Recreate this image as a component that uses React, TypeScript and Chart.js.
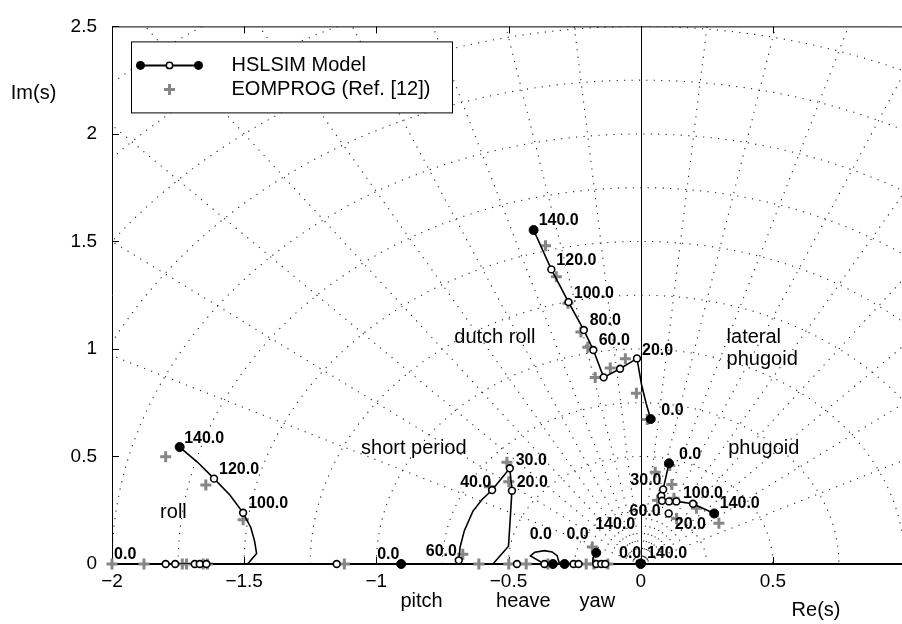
import React, { useEffect, useRef } from 'react';
import { Chart, registerables } from 'chart.js';

Chart.register(...registerables);

type Pt = [number, number];

// ---------- axis ticks ----------
const xTicks = [-2, -1.5, -1, -0.5, 0, 0.5, 1];
const yTicks = [0, 0.5, 1, 1.5, 2, 2.5];

// ---------- s-plane grid (sgrid) ----------
const gridWn = [0.25, 0.5, 0.75, 1, 1.25, 1.5, 1.75, 2, 2.25, 2.5, 2.75, 3, 3.25];
const gridZeta = [0.1, 0.2, 0.3, 0.4, 0.5, 0.6, 0.7, 0.8, 0.9, -0.1, -0.2, -0.3, -0.4, -0.5, -0.6, -0.7, -0.8, -0.9];

// ---------- HSLSIM model: roll ----------
const rollOpen: Pt[] = [[-1.614, 0.397], [-1.504, 0.238], [-1.797, 0], [-1.761, 0], [-1.687, 0], [-1.668, 0], [-1.643, 0]];
const rollFilled: Pt[] = [[-1.744, 0.544]];
const rollPath: Pt[] = [[-1.797, 0], [-1.487, 0], [-1.453, 0.049], [-1.461, 0.109], [-1.475, 0.17], [-1.504, 0.238], [-1.554, 0.321], [-1.614, 0.397], [-1.676, 0.473], [-1.744, 0.544]];
// ---------- pitch ----------
const pitchOpen: Pt[] = [[-1.15, 0]];
const pitchFilled: Pt[] = [[-0.906, 0]];
// ---------- short period ----------
const spOpen: Pt[] = [[-0.487, 0.341], [-0.495, 0.445], [-0.562, 0.344], [-0.688, 0.017], [-0.468, 0]];
const spPathA: Pt[] = [[-0.487, 0.341], [-0.495, 0.445], [-0.562, 0.344], [-0.6, 0.3], [-0.635, 0.245], [-0.667, 0.155], [-0.683, 0.079], [-0.688, 0.017], [-0.69, 0]];
const spPathB: Pt[] = [[-0.487, 0.341], [-0.494, 0.2], [-0.5, 0.083], [-0.559, 0]];
// ---------- heave ----------
const heaveOpen: Pt[] = [[-0.364, 0], [-0.254, 0], [-0.235, 0]];
const heaveFilled: Pt[] = [[-0.332, 0], [-0.288, 0]];
const heaveLoop: Pt[] = [[-0.364, 0], [-0.417, 0.038], [-0.4, 0.055], [-0.364, 0.062], [-0.335, 0.056], [-0.316, 0.039], [-0.307, 0]];
// ---------- yaw ----------
const yawOpen: Pt[] = [[-0.168, 0], [-0.149, 0], [-0.134, 0]];
const yawFilled: Pt[] = [[-0.168, 0.052]];
const yawPath: Pt[] = [[-0.168, 0.052], [-0.18, 0.03], [-0.181, 0.012], [-0.175, 0]];
// ---------- spiral ----------
const spiralFilled: Pt[] = [[0, 0]];
const spiralPath: Pt[] = [[-0.019, 0], [-0.014, 0.016], [0, 0.023], [0.014, 0.016], [0.019, 0]];
// ---------- dutch roll / lateral phugoid ----------
const drOpen: Pt[] = [[-0.338, 1.37], [-0.273, 1.218], [-0.215, 1.088], [-0.179, 0.995], [-0.14, 0.868], [-0.078, 0.908], [-0.014, 0.956]];
const drFilled: Pt[] = [[-0.405, 1.553], [0.038, 0.674]];
const drPath: Pt[] = [[-0.405, 1.553], [-0.338, 1.37], [-0.273, 1.218], [-0.215, 1.088], [-0.179, 0.995], [-0.14, 0.868], [-0.078, 0.908], [-0.014, 0.956], [0.003, 0.836], [0.021, 0.745], [0.038, 0.674]];
// ---------- phugoid ----------
const phOpen: Pt[] = [[0.085, 0.347], [0.078, 0.317], [0.081, 0.294], [0.107, 0.291], [0.135, 0.291], [0.198, 0.28], [0.106, 0.235]];
const phFilled: Pt[] = [[0.107, 0.468], [0.278, 0.235]];
const phPath: Pt[] = [[0.107, 0.468], [0.085, 0.347], [0.078, 0.317], [0.081, 0.294], [0.107, 0.291], [0.135, 0.291], [0.198, 0.28], [0.278, 0.235]];

// ---------- EOMPROG (Ref. [12]) ----------
const refRoll: Pt[] = [[-1.797, 0.499], [-1.645, 0.367], [-1.504, 0.206], [-2.0, 0], [-1.879, 0], [-1.734, 0], [-1.718, 0], [-1.655, 0], [-1.639, 0]];
const refPitch: Pt[] = [[-1.121, 0]];
const refShort: Pt[] = [[-0.506, 0.473], [-0.499, 0.382], [-0.572, 0.359], [-0.673, 0.045], [-0.612, 0], [-0.499, 0], [-0.433, 0], [-0.351, 0]];
const refYaw: Pt[] = [[-0.183, 0.079], [-0.206, 0], [-0.177, 0], [-0.124, 0]];
const refDutch: Pt[] = [[-0.36, 1.48], [-0.319, 1.336], [-0.275, 1.212], [-0.226, 1.079], [-0.2, 1.008], [-0.172, 0.867], [-0.115, 0.912], [-0.058, 0.955], [-0.016, 0.794], [0.025, 0.672]];
const refPhugoid: Pt[] = [[0.055, 0.427], [0.118, 0.37], [0.11, 0.458], [0.064, 0.296], [0.126, 0.306], [0.136, 0.212], [0.211, 0.259], [0.296, 0.19]];

// ---------- speed annotations (text, anchored at left/middle) ----------
const speedText = ['140.0', '120.0', '100.0', '80.0', '60.0', '20.0', '0.0', '0.0', '30.0', '100.0', '140.0', '60.0', '20.0', '30.0', '40.0', '20.0', '60.0', '0.0', '0.0', '140.0', '0.0', '140.0', '140.0', '120.0', '100.0', '0.0', '0.0'];
const speedX = [-0.386, -0.319, -0.253, -0.193, -0.159, 0.005, 0.078, 0.145, -0.039, 0.16, 0.299, -0.042, 0.129, -0.473, -0.683, -0.469, -0.813, -0.42, -0.281, -0.172, -0.082, 0.024, -1.727, -1.595, -1.485, -1.992, -0.997];
const speedY = [1.599, 1.409, 1.258, 1.13, 1.039, 0.994, 0.714, 0.508, 0.386, 0.327, 0.279, 0.245, 0.185, 0.482, 0.38, 0.38, 0.056, 0.138, 0.138, 0.182, 0.047, 0.047, 0.585, 0.44, 0.28, 0.045, 0.045];

// ---------- mode names ----------
const modeText = ['roll', 'short period', 'dutch roll', 'lateral', 'phugoid', 'phugoid', 'pitch', 'heave', 'yaw', 'Re(s)', 'Im(s)'];
const modeX = [-1.818, -1.058, -0.705, 0.325, 0.325, 0.331, -0.909, -0.547, -0.231, 0.571, -2.383];
const modeY = [0.238, 0.538, 1.052, 1.055, 0.95, 0.538, -0.175, -0.175, -0.175, -0.214, 2.19];

const FONT = "'Liberation Sans', Arial, Helvetica, sans-serif";
const REF_GREY = '#868686';

const xy = (a: Pt[]) => a.map(([x, y]) => ({ x, y }));
const fmt = (v: number) => (v < 0 ? '\u2212' + String(Math.abs(v)) : String(v));

export default function App() {
  const ref = useRef<HTMLCanvasElement>(null);

  useEffect(() => {
    const canvas = ref.current;
    if (!canvas) return;

    const overlay = {
      id: 'overlay',
      beforeDatasetsDraw(chart: any) {
        const { ctx, chartArea: a, scales } = chart;
        const xs = scales.x, ys = scales.y;
        const x0 = xs.getPixelForValue(0), y0 = ys.getPixelForValue(0);
        const kx = xs.getPixelForValue(1) - x0;
        const ky = y0 - ys.getPixelForValue(1);
        ctx.save();
        ctx.beginPath();
        ctx.rect(a.left, a.top, a.right - a.left, a.bottom - a.top);
        ctx.clip();
        ctx.strokeStyle = '#262626';
        ctx.lineWidth = 1.1;
        ctx.setLineDash([1.2, 6.3]);
        for (const r of gridWn) {
          ctx.beginPath();
          ctx.ellipse(x0, y0, r * kx, r * ky, 0, Math.PI, 2 * Math.PI);
          ctx.stroke();
        }
        for (const z of gridZeta) {
          const R = 6;
          ctx.beginPath();
          ctx.moveTo(x0, y0);
          ctx.lineTo(x0 - z * R * kx, y0 - Math.sqrt(1 - z * z) * R * ky);
          ctx.stroke();
        }
        ctx.setLineDash([]);
        // imaginary axis
        ctx.strokeStyle = '#000';
        ctx.lineWidth = 1;
        ctx.beginPath();
        ctx.moveTo(Math.round(x0) + 0.5, y0);
        ctx.lineTo(Math.round(x0) + 0.5, a.top);
        ctx.stroke();
        ctx.restore();

        // box + inner ticks
        ctx.save();
        ctx.strokeStyle = '#000';
        ctx.lineWidth = 1;
        ctx.beginPath();
        ctx.moveTo(a.left + 0.5, a.bottom);
        ctx.lineTo(a.left + 0.5, a.top + 0.5);
        ctx.lineTo(a.right, a.top + 0.5);
        ctx.stroke();
        ctx.lineWidth = 2;
        ctx.beginPath();
        ctx.moveTo(a.left, a.bottom);
        ctx.lineTo(a.right, a.bottom);
        ctx.stroke();
        ctx.lineWidth = 1;
        const T = 7;
        for (const t of xTicks) {
          const px = Math.round(xs.getPixelForValue(t)) + 0.5;
          ctx.beginPath();
          ctx.moveTo(px, a.bottom);
          ctx.lineTo(px, a.bottom - T);
          ctx.moveTo(px, a.top);
          ctx.lineTo(px, a.top + T);
          ctx.stroke();
        }
        for (const t of yTicks) {
          const py = Math.round(ys.getPixelForValue(t)) + 0.5;
          ctx.beginPath();
          ctx.moveTo(a.left, py);
          ctx.lineTo(a.left + T, py);
          ctx.stroke();
        }
        ctx.restore();
      },
      afterDatasetsDraw(chart: any) {
        const { ctx, chartArea: a, scales } = chart;
        const xs = scales.x, ys = scales.y;
        ctx.save();
        ctx.fillStyle = '#000';
        ctx.textBaseline = 'middle';
        ctx.textAlign = 'left';
        ctx.font = `bold 16px ${FONT}`;
        speedText.forEach((s, i) => {
          ctx.fillText(s, xs.getPixelForValue(speedX[i]), ys.getPixelForValue(speedY[i]));
        });
        ctx.font = `20px ${FONT}`;
        modeText.forEach((s, i) => {
          ctx.fillText(s, xs.getPixelForValue(modeX[i]), ys.getPixelForValue(modeY[i]));
        });

        // legend
        const lx = a.left + 19.5, ly = a.top + 15.5, lw = 321, lh = 71;
        ctx.fillStyle = '#fff';
        ctx.fillRect(lx, ly, lw, lh);
        ctx.strokeStyle = '#000';
        ctx.lineWidth = 1;
        ctx.strokeRect(lx, ly, lw, lh);
        const r1 = ly + 23.5;
        ctx.lineWidth = 2;
        ctx.beginPath();
        ctx.moveTo(lx + 9, r1);
        ctx.lineTo(lx + 67, r1);
        ctx.stroke();
        ctx.fillStyle = '#000';
        for (const px of [lx + 9, lx + 67]) {
          ctx.beginPath();
          ctx.arc(px, r1, 4.5, 0, Math.PI * 2);
          ctx.fill();
        }
        ctx.lineWidth = 1.5;
        ctx.beginPath();
        ctx.arc(lx + 38, r1, 3.2, 0, Math.PI * 2);
        ctx.fillStyle = '#fff';
        ctx.fill();
        ctx.stroke();
        const r2 = ly + 47.5;
        ctx.strokeStyle = REF_GREY;
        ctx.lineWidth = 3;
        ctx.beginPath();
        ctx.moveTo(lx + 38 - 5.5, r2);
        ctx.lineTo(lx + 38 + 5.5, r2);
        ctx.moveTo(lx + 38, r2 - 5.5);
        ctx.lineTo(lx + 38, r2 + 5.5);
        ctx.stroke();
        ctx.fillStyle = '#000';
        ctx.font = `20px ${FONT}`;
        ctx.fillText('HSLSIM Model', lx + 100, r1);
        ctx.fillText('EOMPROG (Ref. [12])', lx + 100, r2);
        ctx.restore();
      },
    };

    const lineDs = (p: Pt[]) => ({
      data: xy(p),
      showLine: true,
      borderColor: '#000',
      borderWidth: 1.6,
      pointRadius: 0,
      fill: false,
      order: 5,
    });

    const chart = new Chart(canvas, {
      type: 'scatter',
      data: {
        datasets: [
          {
            label: 'EOMPROG (Ref. [12])',
            data: xy([...refRoll, ...refPitch, ...refShort, ...refYaw, ...refDutch, ...refPhugoid]),
            pointStyle: 'cross',
            pointRadius: 5.5,
            borderColor: REF_GREY,
            backgroundColor: REF_GREY,
            pointBorderWidth: 3,
            order: 10,
            clip: false,
          } as any,
          lineDs(rollPath),
          lineDs(spPathA),
          lineDs(spPathB),
          lineDs(heaveLoop),
          lineDs(yawPath),
          lineDs(spiralPath),
          lineDs(drPath),
          lineDs(phPath),
          {
            label: 'HSLSIM Model',
            data: xy([...rollOpen, ...pitchOpen, ...spOpen, ...heaveOpen, ...yawOpen, ...drOpen, ...phOpen]),
            pointStyle: 'circle',
            pointRadius: 3.4,
            backgroundColor: '#fff',
            borderColor: '#000',
            pointBorderWidth: 1.6,
            order: 2,
            clip: false,
          } as any,
          {
            label: 'HSLSIM Model (end points)',
            data: xy([...rollFilled, ...pitchFilled, ...heaveFilled, ...yawFilled, ...spiralFilled, ...drFilled, ...phFilled]),
            pointStyle: 'circle',
            pointRadius: 4.5,
            backgroundColor: '#000',
            borderColor: '#000',
            pointBorderWidth: 1,
            order: 1,
            clip: false,
          } as any,
        ],
      },
      options: {
        responsive: false,
        maintainAspectRatio: false,
        animation: false,
        events: [],
        layout: { padding: { left: 0, right: 15, top: 14, bottom: 0 } },
        plugins: { legend: { display: false }, tooltip: { enabled: false } },
        scales: {
          x: {
            type: 'linear',
            min: -2,
            max: 1,
            afterBuildTicks: (s: any) => {
              s.ticks = xTicks.map((v) => ({ value: v }));
            },
            afterFit: (s: any) => {
              s.height = 60;
            },
            grid: { display: false, drawTicks: false },
            border: { display: false },
            ticks: {
              padding: 6,
              maxRotation: 0,
              autoSkip: false,
              color: '#000',
              font: { family: FONT, size: 19 },
              callback: (v: any) => (Number(v) === 1 ? '' : fmt(Number(v))),
            },
          },
          y: {
            type: 'linear',
            min: 0,
            max: 2.5,
            afterBuildTicks: (s: any) => {
              s.ticks = yTicks.map((v) => ({ value: v }));
            },
            afterFit: (s: any) => {
              s.width = 112;
            },
            grid: { display: false, drawTicks: false },
            border: { display: false },
            ticks: {
              padding: 15,
              autoSkip: false,
              color: '#000',
              font: { family: FONT, size: 19 },
              callback: (v: any) => fmt(Number(v)),
            },
          },
        },
      } as any,
      plugins: [overlay],
    });

    return () => chart.destroy();
  }, []);

  return (
    <div
      style={{
        position: 'fixed',
        left: 0,
        top: 0,
        width: 902,
        height: 624,
        overflow: 'hidden',
        background: '#fff',
      }}
    >
      <canvas ref={ref} width={920} height={624} style={{ display: 'block', width: 920, height: 624 }} />
    </div>
  );
}
